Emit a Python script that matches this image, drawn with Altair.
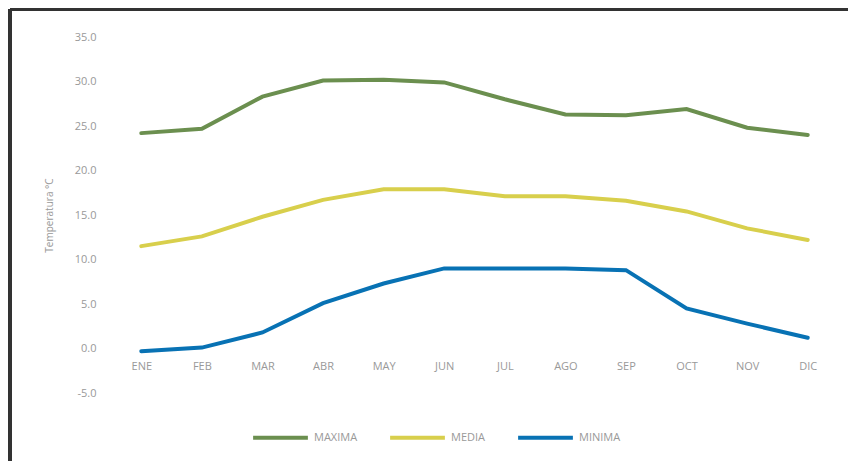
import altair as alt
import pandas as pd

months = ["ENE", "FEB", "MAR", "ABR", "MAY", "JUN", "JUL", "AGO", "SEP", "OCT", "NOV", "DIC"]
maxima = [24.2, 24.7, 28.3, 30.1, 30.2, 29.9, 28.0, 26.3, 26.2, 26.9, 24.8, 24.0]
media = [11.5, 12.6, 14.8, 16.7, 17.9, 17.9, 17.1, 17.1, 16.6, 15.4, 13.5, 12.2]
minima = [-0.3, 0.1, 1.8, 5.1, 7.3, 9.0, 9.0, 9.0, 8.8, 4.5, 2.8, 1.2]
series = ["MAXIMA", "MEDIA", "MINIMA"]
colors = ["#6b8f4f", "#d8cf4c", "#0872b4"]

rows = []
for name, vals in zip(series, [maxima, media, minima]):
    for m, v in zip(months, vals):
        rows.append({"mes": m, "temp": v, "serie": name})
df = pd.DataFrame(rows)

W, H = 727, 356
ymin, ymax = -5, 35
below_zero = H * (0 - ymin) / (ymax - ymin)

lines = alt.Chart(df).mark_line(strokeWidth=4, strokeCap="round").encode(
    x=alt.X("mes:N", sort=months, scale=alt.Scale(paddingOuter=0.5),
            axis=alt.Axis(title=None, domain=False, ticks=False, tickSize=0, labelPadding=12,
                          labelColor="#999999", labelFontSize=11, labelFont="Open Sans",
                          labelAngle=0, offset=-below_zero)),
    y=alt.Y("temp:Q", scale=alt.Scale(domain=[ymin, ymax], nice=False),
            axis=alt.Axis(title="Temperatura °C", values=list(range(-5, 40, 5)),
                          labelExpr="(datum.value < 0 ? '-' : '') + format(abs(datum.value), '.1f')",
                          grid=False, domain=False, ticks=False, labelPadding=15,
                          labelColor="#999999", labelFontSize=11, labelFont="Open Sans",
                          titleColor="#999999", titleFontSize=10, titleFont="Open Sans",
                          titleFontWeight="normal", titlePadding=20)),
    color=alt.Color("serie:N", scale=alt.Scale(domain=series, range=colors),
                    legend=alt.Legend(title=None, orient="none", legendX=140, legendY=371,
                                      direction="horizontal", columns=3, symbolType="stroke",
                                      symbolSize=3000, symbolStrokeWidth=4, labelOffset=4,
                                      columnPadding=24, labelColor="#999999", labelFontSize=11,
                                      labelFont="Open Sans")),
)

frame_top = alt.Chart(df).mark_rule(color="#333333", strokeWidth=3).encode(
    x=alt.value(-101), x2=alt.value(W + 20), y=alt.value(-28)
)
frame_left = alt.Chart(df).mark_rule(color="#333333", strokeWidth=3).encode(
    x=alt.value(-101), y=alt.value(-28), y2=alt.value(H + 90)
)

chart = alt.layer(lines, frame_top, frame_left).properties(
    width=W, height=H,
    autosize=alt.AutoSizeParams(type="none"),
    padding={"left": 103, "top": 29, "right": 10, "bottom": 68},
).configure_view(stroke=None)

chart.save("out.html", embed_options={"renderer": "svg", "actions": False})
